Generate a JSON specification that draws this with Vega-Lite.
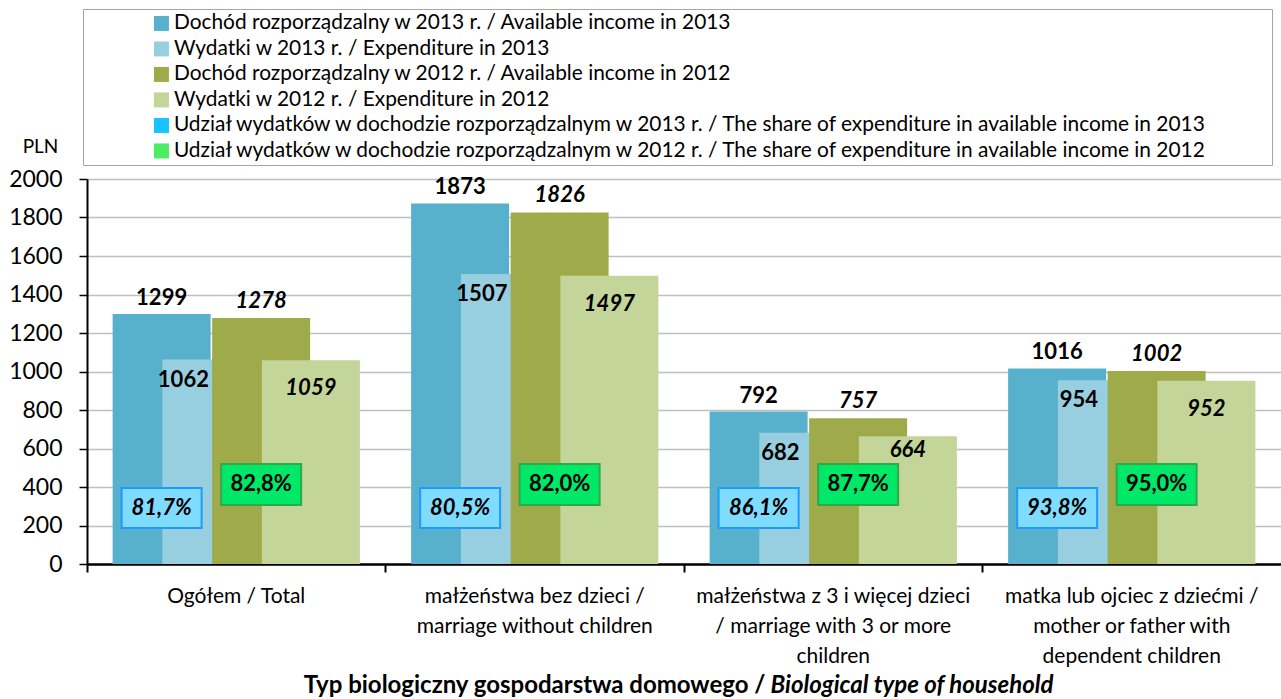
{
  "$schema": "https://vega.github.io/schema/vega-lite/v6.json",
  "width": 1194,
  "height": 385,
  "autosize": "none",
  "padding": {"left": 87, "top": 179, "right": 0, "bottom": 135},
  "background": "white",
  "config": {
    "font": "Lato",
    "view": {"stroke": null},
    "locale": {"number": {"decimal": ",", "thousands": " ", "grouping": [3], "currency": ["", " zł"]}},
    "axisY": {
      "orient": "left", "tickCount": 10, "format": "d", "labelFontSize": 23, "labelColor": "black", "labelPadding": 17,
      "tickSize": 8, "tickColor": "black", "tickWidth": 1.5, "domainColor": "black", "domainWidth": 2,
      "grid": true, "gridColor": "#c0c0c0", "gridWidth": 1.5,
      "titleAngle": 0, "titleX": -47, "titleY": -33, "titleAlign": "center", "titleBaseline": "middle",
      "titleFontSize": 19, "titleFontWeight": "normal", "titleColor": "black"
    }
  },
  "datasets": {
    "bars": [
      {"cat": "Ogółem / Total", "series": "Dochód rozporządzalny w 2013 r. / Available income in 2013", "value": 1299},
      {"cat": "Ogółem / Total", "series": "Wydatki w 2013 r. / Expenditure in 2013", "value": 1062},
      {"cat": "Ogółem / Total", "series": "Dochód rozporządzalny w 2012 r. / Available income in 2012", "value": 1278},
      {"cat": "Ogółem / Total", "series": "Wydatki w 2012 r. / Expenditure in 2012", "value": 1059},
      {"cat": "małżeństwa bez dzieci / marriage without children", "series": "Dochód rozporządzalny w 2013 r. / Available income in 2013", "value": 1873},
      {"cat": "małżeństwa bez dzieci / marriage without children", "series": "Wydatki w 2013 r. / Expenditure in 2013", "value": 1507},
      {"cat": "małżeństwa bez dzieci / marriage without children", "series": "Dochód rozporządzalny w 2012 r. / Available income in 2012", "value": 1826},
      {"cat": "małżeństwa bez dzieci / marriage without children", "series": "Wydatki w 2012 r. / Expenditure in 2012", "value": 1497},
      {"cat": "małżeństwa z 3 i więcej dzieci / marriage with 3 or more children", "series": "Dochód rozporządzalny w 2013 r. / Available income in 2013", "value": 792},
      {"cat": "małżeństwa z 3 i więcej dzieci / marriage with 3 or more children", "series": "Wydatki w 2013 r. / Expenditure in 2013", "value": 682},
      {"cat": "małżeństwa z 3 i więcej dzieci / marriage with 3 or more children", "series": "Dochód rozporządzalny w 2012 r. / Available income in 2012", "value": 757},
      {"cat": "małżeństwa z 3 i więcej dzieci / marriage with 3 or more children", "series": "Wydatki w 2012 r. / Expenditure in 2012", "value": 664},
      {"cat": "matka lub ojciec z dziećmi / mother or father with dependent children", "series": "Dochód rozporządzalny w 2013 r. / Available income in 2013", "value": 1016},
      {"cat": "matka lub ojciec z dziećmi / mother or father with dependent children", "series": "Wydatki w 2013 r. / Expenditure in 2013", "value": 954},
      {"cat": "matka lub ojciec z dziećmi / mother or father with dependent children", "series": "Dochód rozporządzalny w 2012 r. / Available income in 2012", "value": 1002},
      {"cat": "matka lub ojciec z dziećmi / mother or father with dependent children", "series": "Wydatki w 2012 r. / Expenditure in 2012", "value": 952}
    ],
    "shares": [
      {"cat": "Ogółem / Total", "year": 2013, "series": "Dochód rozporządzalny w 2013 r. / Available income in 2013", "share": 0.817},
      {"cat": "Ogółem / Total", "year": 2012, "series": "Dochód rozporządzalny w 2012 r. / Available income in 2012", "share": 0.828},
      {"cat": "małżeństwa bez dzieci / marriage without children", "year": 2013, "series": "Dochód rozporządzalny w 2013 r. / Available income in 2013", "share": 0.805},
      {"cat": "małżeństwa bez dzieci / marriage without children", "year": 2012, "series": "Dochód rozporządzalny w 2012 r. / Available income in 2012", "share": 0.820},
      {"cat": "małżeństwa z 3 i więcej dzieci / marriage with 3 or more children", "year": 2013, "series": "Dochód rozporządzalny w 2013 r. / Available income in 2013", "share": 0.861},
      {"cat": "małżeństwa z 3 i więcej dzieci / marriage with 3 or more children", "year": 2012, "series": "Dochód rozporządzalny w 2012 r. / Available income in 2012", "share": 0.877},
      {"cat": "matka lub ojciec z dziećmi / mother or father with dependent children", "year": 2013, "series": "Dochód rozporządzalny w 2013 r. / Available income in 2013", "share": 0.938},
      {"cat": "matka lub ojciec z dziećmi / mother or father with dependent children", "year": 2012, "series": "Dochód rozporządzalny w 2012 r. / Available income in 2012", "share": 0.950}
    ]
  },
  "resolve": {"axis": {"x": "independent", "y": "shared"}},
  "layer": [
    {
      "data": {"name": "bars"},
      "mark": {"type": "bar", "width": 98},
      "encoding": {
        "x": {
          "field": "cat", "type": "nominal",
          "scale": {"domain": ["Ogółem / Total", "małżeństwa bez dzieci / marriage without children", "małżeństwa z 3 i więcej dzieci / marriage with 3 or more children", "matka lub ojciec z dziećmi / mother or father with dependent children"], "paddingInner": 0, "paddingOuter": 0},
          "axis": {
            "orient": "bottom", "bandPosition": 0, "labels": false, "ticks": true, "tickSize": 8, "tickColor": "black", "tickWidth": 2,
            "domainColor": "black", "domainWidth": 2.5, "grid": false,
            "title": "Typ biologiczny gospodarstwa domowego /", "titleFont": "Lato", "titleFontSize": 24, "titleFontWeight": "bold", "titleColor": "black",
            "titleX": 678, "titleY": 128, "titleAlign": "right", "titleBaseline": "alphabetic", "titleAnchor": null
          }
        },
        "xOffset": {
          "field": "series", "type": "nominal",
          "scale": {"domain": ["Dochód rozporządzalny w 2013 r. / Available income in 2013", "Wydatki w 2013 r. / Expenditure in 2013", "Dochód rozporządzalny w 2012 r. / Available income in 2012", "Wydatki w 2012 r. / Expenditure in 2012"], "paddingInner": 0, "paddingOuter": 1.046}
        },
        "y": {
          "field": "value", "type": "quantitative",
          "scale": {"domain": [0, 2000], "nice": false},
          "axis": {"title": "PLN"}
        },
        "color": {
          "field": "series", "type": "nominal",
          "scale": {
            "domain": ["Dochód rozporządzalny w 2013 r. / Available income in 2013", "Wydatki w 2013 r. / Expenditure in 2013", "Dochód rozporządzalny w 2012 r. / Available income in 2012", "Wydatki w 2012 r. / Expenditure in 2012", "Udział wydatków w dochodzie rozporządzalnym w 2013 r. / The share of expenditure in available income in 2013", "Udział wydatków w dochodzie rozporządzalnym w 2012 r. / The share of expenditure in available income in 2012"],
            "range": ["#57b1cc", "#98cfe0", "#9fab4a", "#c3d598", "#19c3ff", "#4ded63"]
          },
          "legend": {
            "orient": "none", "legendX": -4, "legendY": -170, "direction": "vertical",
            "title": " ", "titleOrient": "left", "titleFontSize": 1, "titlePadding": 64,
            "symbolType": "square", "symbolSize": 225, "symbolStrokeWidth": 0, "symbolOpacity": 1,
            "labelFontSize": 20.9, "labelColor": "black", "labelFont": "Lato", "labelOffset": 2, "labelLimit": 2000,
            "rowPadding": 3.5, "padding": 4, "strokeColor": "#a6a6a6", "fillColor": "white",
            "labelExpr": "datum.label + '\u00a0\u00a0\u00a0\u00a0\u00a0\u00a0\u00a0\u00a0\u00a0\u00a0\u00a0\u200b'"
          }
        }
      }
    },
    {
      "data": {"name": "shares"},
      "transform": [{"filter": "datum.year === 2013"}],
      "mark": {"type": "bar", "width": 80, "fill": "#80dcff", "stroke": "#1e9bff", "strokeWidth": 2},
      "encoding": {
        "x": {
          "field": "cat", "type": "nominal",
          "axis": {
            "orient": "bottom", "domain": false, "ticks": false, "grid": false,
            "labelExpr": "datum.value == 'małżeństwa bez dzieci / marriage without children' ? ['małżeństwa bez dzieci /', 'marriage without children'] : datum.value == 'małżeństwa z 3 i więcej dzieci / marriage with 3 or more children' ? ['małżeństwa z 3 i więcej dzieci', '/ marriage with 3 or more', 'children'] : datum.value == 'matka lub ojciec z dziećmi / mother or father with dependent children' ? ['matka lub ojciec z dziećmi /', 'mother or father with', 'dependent children'] : datum.value",
            "labelFontSize": 21, "labelColor": "black", "labelPadding": 21, "labelLineHeight": 30, "labelBaseline": "top", "labelLimit": 400, "labelAngle": 0,
            "title": "Biological type of household", "titleFont": "Lato", "titleFontSize": 24, "titleFontWeight": "bold", "titleFontStyle": "italic", "titleColor": "black",
            "titleX": 683, "titleY": 128, "titleAlign": "left", "titleBaseline": "alphabetic", "titleAnchor": null
          }
        },
        "xOffset": {"field": "series", "type": "nominal"},
        "y": {"datum": 187, "type": "quantitative", "axis": {"title": "PLN"}},
        "y2": {"datum": 395}
      }
    },
    {
      "data": {"name": "shares"},
      "transform": [{"filter": "datum.year === 2012"}],
      "mark": {"type": "bar", "width": 80, "fill": "#00e868", "stroke": "#33a84a", "strokeWidth": 2},
      "encoding": {
        "x": {"field": "cat", "type": "nominal", "axis": null},
        "xOffset": {"field": "series", "type": "nominal"},
        "y": {"datum": 306, "type": "quantitative", "axis": {"title": "PLN"}},
        "y2": {"datum": 519}
      }
    },
    {
      "data": {"name": "shares"},
      "transform": [{"filter": "datum.year === 2013"}],
      "mark": {"type": "text", "fontWeight": "bold", "fontStyle": "italic", "fontSize": 22, "baseline": "middle", "color": "black"},
      "encoding": {
        "x": {"field": "cat", "type": "nominal", "axis": null},
        "xOffset": {"field": "series", "type": "nominal"},
        "y": {"datum": 291, "type": "quantitative", "axis": {"title": "PLN"}},
        "text": {"field": "share", "type": "quantitative", "format": ".1%"}
      }
    },
    {
      "data": {"name": "shares"},
      "transform": [{"filter": "datum.year === 2012"}],
      "mark": {"type": "text", "fontWeight": "bold", "fontSize": 22, "baseline": "middle", "color": "black"},
      "encoding": {
        "x": {"field": "cat", "type": "nominal", "axis": null},
        "xOffset": {"field": "series", "type": "nominal"},
        "y": {"datum": 413, "type": "quantitative", "axis": {"title": "PLN"}},
        "text": {"field": "share", "type": "quantitative", "format": ".1%"}
      }
    },
    {
      "data": {"name": "bars"},
      "transform": [{"filter": "datum.series === 'Dochód rozporządzalny w 2013 r. / Available income in 2013'"}],
      "mark": {"type": "text", "fontWeight": "bold", "fontSize": 22, "baseline": "middle", "dy": -16, "color": "black"},
      "encoding": {
        "x": {"field": "cat", "type": "nominal", "axis": null},
        "xOffset": {"field": "series", "type": "nominal"},
        "y": {"field": "value", "type": "quantitative", "axis": {"title": "PLN"}},
        "text": {"field": "value", "type": "quantitative", "format": "d"}
      }
    },
    {
      "data": {"name": "bars"},
      "transform": [{"filter": "datum.series === 'Wydatki w 2013 r. / Expenditure in 2013'"}],
      "mark": {"type": "text", "fontWeight": "bold", "fontSize": 22, "baseline": "middle", "dy": 20, "dx": -28, "color": "black"},
      "encoding": {
        "x": {"field": "cat", "type": "nominal", "axis": null},
        "xOffset": {"field": "series", "type": "nominal"},
        "y": {"field": "value", "type": "quantitative", "axis": {"title": "PLN"}},
        "text": {"field": "value", "type": "quantitative", "format": "d"}
      }
    },
    {
      "data": {"name": "bars"},
      "transform": [{"filter": "datum.series === 'Dochód rozporządzalny w 2012 r. / Available income in 2012'"}],
      "mark": {"type": "text", "fontWeight": "bold", "fontStyle": "italic", "fontSize": 22, "baseline": "middle", "dy": -17, "color": "black"},
      "encoding": {
        "x": {"field": "cat", "type": "nominal", "axis": null},
        "xOffset": {"field": "series", "type": "nominal"},
        "y": {"field": "value", "type": "quantitative", "axis": {"title": "PLN"}},
        "text": {"field": "value", "type": "quantitative", "format": "d"}
      }
    },
    {
      "data": {"name": "bars"},
      "transform": [{"filter": "datum.series === 'Wydatki w 2012 r. / Expenditure in 2012' && datum.value > 700"}],
      "mark": {"type": "text", "fontWeight": "bold", "fontStyle": "italic", "fontSize": 22, "baseline": "middle", "dy": 28, "color": "black"},
      "encoding": {
        "x": {"field": "cat", "type": "nominal", "axis": null},
        "xOffset": {"field": "series", "type": "nominal"},
        "y": {"field": "value", "type": "quantitative", "axis": {"title": "PLN"}},
        "text": {"field": "value", "type": "quantitative", "format": "d"}
      }
    },
    {
      "data": {"name": "bars"},
      "transform": [{"filter": "datum.series === 'Wydatki w 2012 r. / Expenditure in 2012' && datum.value < 700"}],
      "mark": {"type": "text", "fontWeight": "bold", "fontStyle": "italic", "fontSize": 22, "baseline": "middle", "dy": 14, "color": "black"},
      "encoding": {
        "x": {"field": "cat", "type": "nominal", "axis": null},
        "xOffset": {"field": "series", "type": "nominal"},
        "y": {"field": "value", "type": "quantitative", "axis": {"title": "PLN"}},
        "text": {"field": "value", "type": "quantitative", "format": "d"}
      }
    }
  ]
}
